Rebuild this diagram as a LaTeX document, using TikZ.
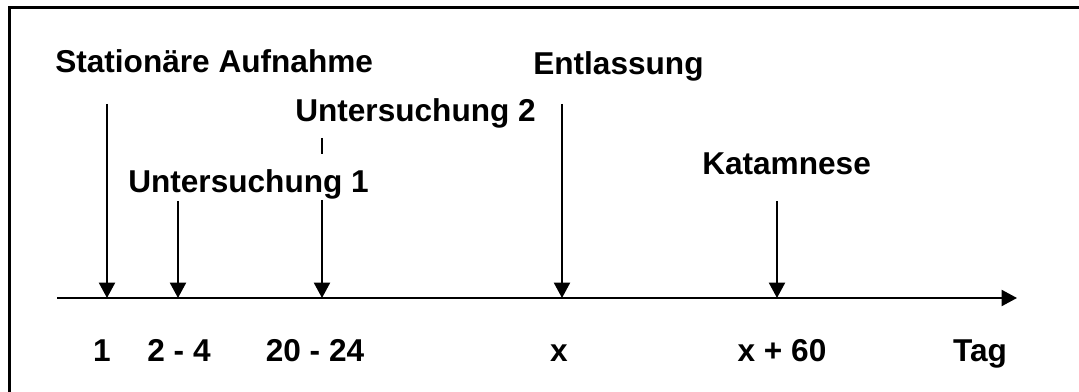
\documentclass[tikz,border=0pt]{standalone}
\usepackage{fontspec}
\setmainfont{Liberation Sans}
\usetikzlibrary{arrows.meta}
\begin{document}
\begin{tikzpicture}[x=0.75pt,y=-0.75pt,
  lbl/.style={inner sep=0pt,font=\fontsize{23.7}{28}\selectfont\bfseries},
  ptr/.style={line width=1.5pt,-{Triangle[width=12pt,length=11.5pt]}},
  axisline/.style={line width=1.5pt,-{Triangle[width=12pt,length=11.5pt]}},
  frame/.style={line width=2.4pt}]
\useasboundingbox (0,0) rectangle (1079,392);
% frame
\coordinate (fbl) at (9.5,393);
\coordinate (ftl) at (9.5,7.5);
\coordinate (ftr) at (1080,7.5);
\draw[frame] (fbl) -- (ftl) -- (ftr);
% axis
\coordinate (ax0) at (57,298);
\coordinate (ax1) at (1017,298);
\draw[axisline] (ax0) -- (ax1);
% top labels
\node[lbl,anchor=base west] (auf) at (55,73) {Stationäre Aufnahme};
\node[lbl,anchor=base west] (u2) at (295,122) {Untersuchung 2};
\node[lbl,anchor=base west] (u1) at (128,193) {Untersuchung 1};
\node[lbl,anchor=base west] (ent) at (533,75) {Entlassung};
\node[lbl,anchor=base west] (kat) at (702,175) {Katamnese};
% bottom labels
\node[lbl,anchor=base] (t1) at (102,361) {1};
\node[lbl,anchor=base] (t2) at (179,361) {2 - 4};
\node[lbl,anchor=base] (t3) at (315,361) {20 - 24};
\node[lbl,anchor=base] (t4) at (559,361) {x};
\node[lbl,anchor=base] (t5) at (782,361) {x + 60};
\node[lbl,anchor=base] (t6) at (980,361) {Tag};
% arrow endpoints
\coordinate (a1s) at (107,104);  \coordinate (a1e) at (107,298);
\coordinate (a2s) at (178,201);  \coordinate (a2e) at (178,298);
\coordinate (a3s) at (322,200);  \coordinate (a3e) at (322,298);
\coordinate (a4s) at (562,104);  \coordinate (a4e) at (562,298);
\coordinate (a5s) at (777,201);  \coordinate (a5e) at (777,298);
\draw[ptr] (a1s) -- (a1e);
\draw[ptr] (a2s) -- (a2e);
\draw[ptr] (a3s) -- (a3e);
\draw[ptr] (a4s) -- (a4e);
\draw[ptr] (a5s) -- (a5e);
% small tick under Untersuchung 2
\coordinate (tk0) at (322,138);
\coordinate (tk1) at (322,154);
\draw[line width=0.8pt] (tk0) -- (tk1);
\end{tikzpicture}
\end{document}
